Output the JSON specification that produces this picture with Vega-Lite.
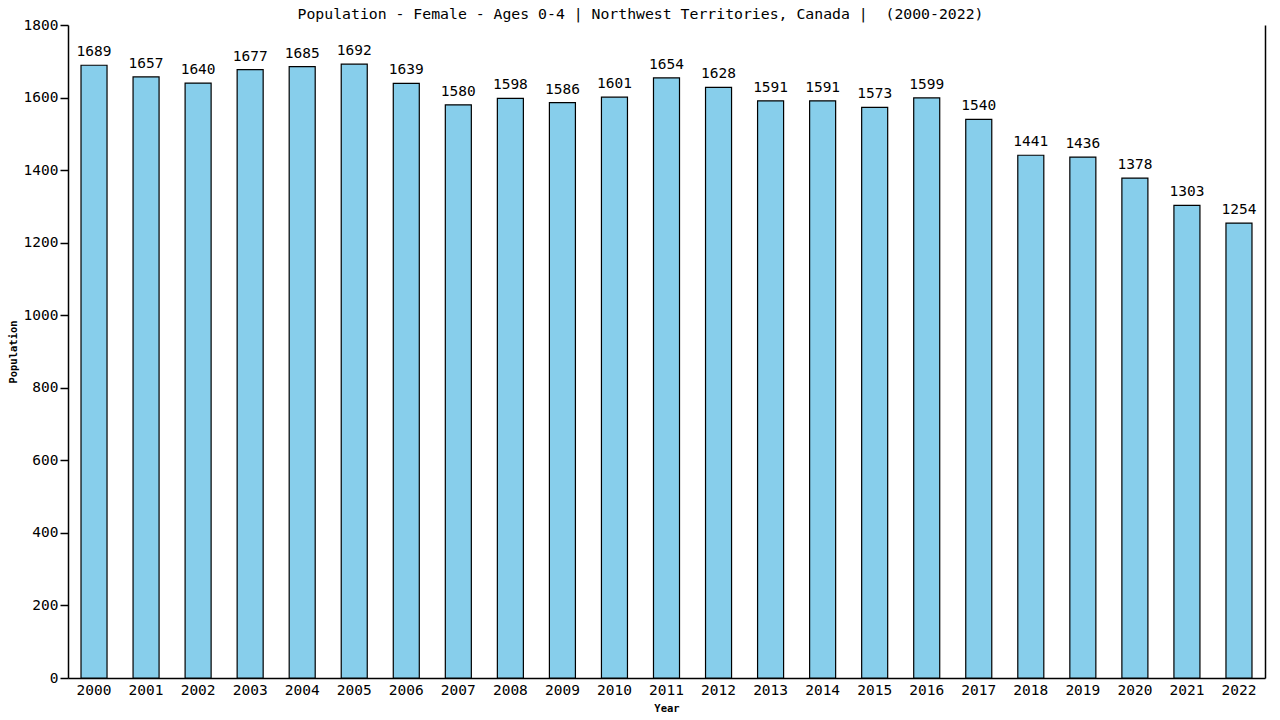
{
  "$schema": "https://vega.github.io/schema/vega-lite/v6.json",
  "width": 1197,
  "height": 653,
  "autosize": {"type": "none"},
  "padding": {"left": 68, "top": 25, "right": 15, "bottom": 42},
  "title": {
    "text": "Population - Female - Ages 0-4 | Northwest Territories, Canada | \u00a0(2000-2022)",
    "anchor": "middle",
    "font": "DejaVu Sans Mono",
    "fontSize": 14.8,
    "fontWeight": "normal",
    "color": "#000000",
    "offset": -5,
    "dx": -26
  },
  "data": {
    "values": [
      {"Year": "2000", "Population": 1689},
      {"Year": "2001", "Population": 1657},
      {"Year": "2002", "Population": 1640},
      {"Year": "2003", "Population": 1677},
      {"Year": "2004", "Population": 1685},
      {"Year": "2005", "Population": 1692},
      {"Year": "2006", "Population": 1639},
      {"Year": "2007", "Population": 1580},
      {"Year": "2008", "Population": 1598},
      {"Year": "2009", "Population": 1586},
      {"Year": "2010", "Population": 1601},
      {"Year": "2011", "Population": 1654},
      {"Year": "2012", "Population": 1628},
      {"Year": "2013", "Population": 1591},
      {"Year": "2014", "Population": 1591},
      {"Year": "2015", "Population": 1573},
      {"Year": "2016", "Population": 1599},
      {"Year": "2017", "Population": 1540},
      {"Year": "2018", "Population": 1441},
      {"Year": "2019", "Population": 1436},
      {"Year": "2020", "Population": 1378},
      {"Year": "2021", "Population": 1303},
      {"Year": "2022", "Population": 1254}
    ]
  },
  "layer": [
    {
      "mark": {"type": "bar", "fill": "#87CEEB", "stroke": "#000000", "strokeWidth": 1.2},
      "encoding": {
        "x": {
          "field": "Year",
          "type": "ordinal",
          "title": "Year",
          "scale": {"paddingInner": 0.5, "paddingOuter": 0.25},
          "axis": {"labelAngle": 0, "ticks": false, "labelPadding": 5, "titlePadding": 7}
        },
        "y": {
          "field": "Population",
          "type": "quantitative",
          "title": "Population",
          "scale": {"domain": [0, 1800]},
          "axis": {"tickCount": 9, "format": "d", "grid": false, "tickSize": 8, "labelPadding": 2, "titlePadding": 5}
        }
      }
    },
    {
      "mark": {"type": "text", "dy": -13, "font": "DejaVu Sans Mono", "fontSize": 14.5, "color": "#000000"},
      "encoding": {
        "x": {"field": "Year", "type": "ordinal"},
        "y": {
          "field": "Population",
          "type": "quantitative",
          "axis": {"orient": "right", "labels": false, "ticks": false, "title": null, "grid": false}
        },
        "text": {"field": "Population", "type": "quantitative", "format": "d"}
      }
    }
  ],
  "resolve": {"axis": {"y": "independent"}},
  "config": {
    "background": "#ffffff",
    "view": {"stroke": null},
    "axis": {
      "domainColor": "#000000",
      "domainWidth": 1.5,
      "tickColor": "#000000",
      "tickWidth": 1.5,
      "labelFont": "DejaVu Sans Mono",
      "labelFontSize": 14.5,
      "labelColor": "#000000",
      "titleFont": "DejaVu Sans Mono",
      "titleFontSize": 10.5,
      "titleFontWeight": "bold",
      "titleColor": "#000000"
    }
  }
}
